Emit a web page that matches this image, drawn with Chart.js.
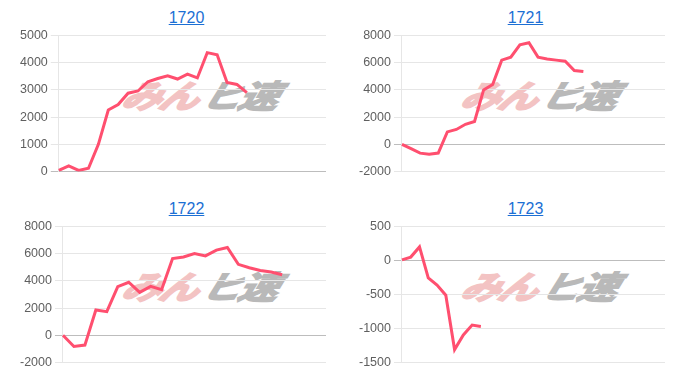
<!DOCTYPE html>
<html>
<head>
<meta charset="utf-8">
<script src="https://cdn.jsdelivr.net/npm/chart.js@4.4.1/dist/chart.umd.min.js"></script>
<style>
  body { margin: 0; background: #fff; width: 700px; height: 376px; overflow: hidden; }
  .celda { position: absolute; width: 339px; height: 185px; }
  .titulo {
    position: absolute; left: 0; top: 9px; width: 100%;
    text-align: center; line-height: 20px;
    font: 16px "Liberation Sans", Arial, sans-serif;
  }
  .titulo a { color: #1c6fd4; text-decoration: underline; }
  .marca {
    position: absolute; left: 184px; top: 94px;
    transform: translate(-50%, -50%) scaleX(1.24) skewX(-14deg);
    font: italic bold 32px "Noto Sans CJK JP", sans-serif;
    white-space: nowrap; letter-spacing: -2px; line-height: 1;
  }
  .marca .m1 { color: #f3c3c3; -webkit-text-stroke: 2px #f3c3c3; }
  .marca .m2 { color: #b9b9b9; -webkit-text-stroke: 1.5px #b9b9b9; margin-left: 4px; }
  .lienzo { position: absolute; left: 0; top: 25px; width: 309px; height: 157px; }
</style>
</head>
<body>
<script>
// etiquetas del eje x (no se muestran)
const etiquetas1720 = [1,2,3,4,5,6,7,8,9,10,11,12,13,14,15,16,17,18,19,20,21,22,23,24,25,26,27,28];
const etiquetas1721 = [1,2,3,4,5,6,7,8,9,10,11,12,13,14,15,16,17,18,19,20,21,22,23,24,25,26,27,28,29,30];
const etiquetas1722 = [1,2,3,4,5,6,7,8,9,10,11,12,13,14,15,16,17,18,19,20,21,22,23,24,25];
const etiquetas1723 = [1,2,3,4,5,6,7,8,9,10,11,12,13,14,15,16,17,18,19,20,21,22,23,24,25,26,27,28,29,30,31];

// valores
const valores1720 = [40, 210, 40, 120, 1000, 2260, 2460, 2880, 2960, 3300, 3420, 3520, 3400, 3580, 3440, 4370, 4290, 3270, 3200, 2900];
const valores1721 = [0, -320, -650, -730, -640, 910, 1090, 1470, 1680, 4000, 4400, 6190, 6410, 7320, 7470, 6410, 6270, 6190, 6110, 5430, 5350];
const valores1722 = [0, -820, -720, 1860, 1740, 3580, 3900, 3160, 3600, 3350, 5640, 5760, 6010, 5840, 6260, 6460, 5220, 4970, 4770, 4650, 4450];
const valores1723 = [10, 50, 200, -255, -360, -510, -1310, -1095, -950, -970];

// limites del eje y: [min, max, paso]
const ejeY1720 = [0, 5000, 1000];
const ejeY1721 = [-2000, 8000, 2000];
const ejeY1722 = [-2000, 8000, 2000];
const ejeY1723 = [-1500, 500, 500];

const graficos = [
  { titulo: "1720", etiquetas: etiquetas1720, valores: valores1720, ejeY: ejeY1720, x: 17, y: 0 },
  { titulo: "1721", etiquetas: etiquetas1721, valores: valores1721, ejeY: ejeY1721, x: 356, y: 0 },
  { titulo: "1722", etiquetas: etiquetas1722, valores: valores1722, ejeY: ejeY1722, x: 17, y: 191 },
  { titulo: "1723", etiquetas: etiquetas1723, valores: valores1723, ejeY: ejeY1723, x: 356, y: 191 },
];

function crearCelda(g) {
  const $celda = document.createElement("div");
  $celda.className = "celda";
  $celda.style.left = g.x + "px";
  $celda.style.top = g.y + "px";
  $celda.innerHTML = `
    <div class="titulo"><a href="#">${g.titulo}</a></div>
    <div class="marca"><span class="m1">みん</span><span class="m2">ヒ速</span></div>
    <div class="lienzo"><canvas></canvas></div>`;
  document.body.appendChild($celda);
  return $celda.querySelector("canvas");
}

function dibujarGrafico(g) {
  const $canvas = crearCelda(g);
  const [min, max, paso] = g.ejeY;

  new Chart($canvas, {
    type: "line",
    data: {
      labels: g.etiquetas,
      datasets: [
        {
          data: g.valores,
          borderColor: "#ff4f6f",
          borderWidth: 3,
          pointRadius: 0,
          tension: 0,
          fill: false,
        },
      ],
    },
    options: {
      responsive: true,
      maintainAspectRatio: false,
      animation: false,
      scales: {
        x: { display: false },
        y: {
          min: min,
          max: max,
          border: { color: "#e6e6e6" },
          grid: {
            color: (ctx) => (ctx.tick && ctx.tick.value === 0 ? "#bdbdbd" : "#e6e6e6"),
            tickLength: 8,
          },
          ticks: {
            stepSize: paso,
            color: "#5f5f5f",
            font: { family: "'Liberation Sans', Arial, sans-serif", size: 12.5 },
            callback: (v) => String(v),
          },
        },
      },
      plugins: {
        legend: { display: false },
        tooltip: { enabled: false },
      },
    },
  });
}

graficos.forEach(dibujarGrafico);
</script>
</body>
</html>
